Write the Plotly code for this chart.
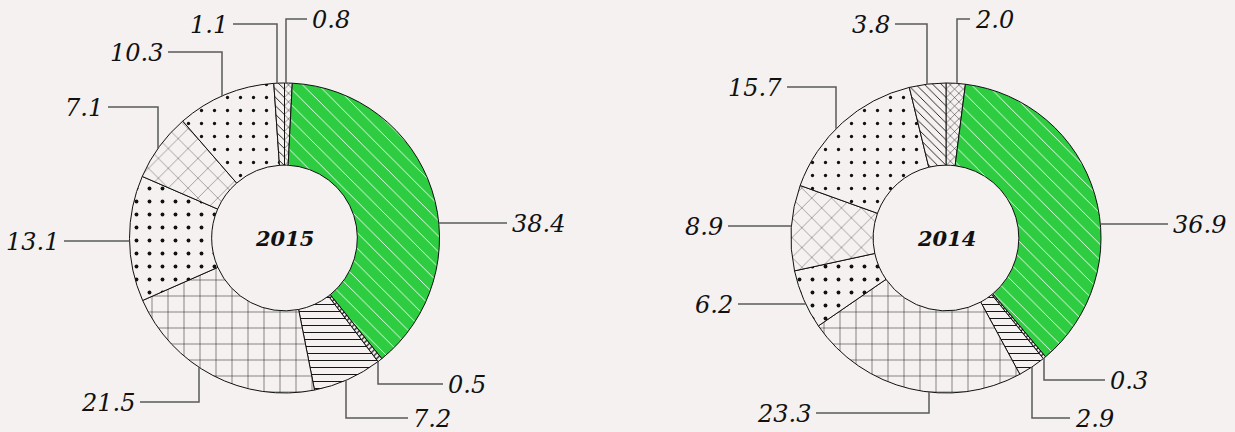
import math
import plotly.graph_objects as go

# ---------------- data ----------------
years = ["2015", "2014"]
categories = ["Segment A", "Segment B", "Segment C", "Segment D", "Segment E",
              "Segment F", "Segment G", "Segment H", "Segment I"]
values_2015 = [0.8, 38.4, 0.5, 7.2, 21.5, 13.1, 7.1, 10.3, 1.1]
values_2014 = [2.0, 36.9, 0.3, 2.9, 23.3, 6.2, 8.9, 15.7, 3.8]

# ---------------- style ----------------
W, H = 1235, 432
BG = "#f4f1f0"
GREEN = "#2ecc40"
FONT = "DejaVu Serif"
LINE = "#5a5a5a"

pat_shape = ["x", "\\", "/", "-", "+", ".", "x", ".", "\\"]
pat_size = [6, 11, 4, 7, 16, 13, 14, 13, 6]
pat_solid = [0.15, 0.08, 0.3, 0.14, 0.06, 0.07, 0.05, 0.05, 0.15]
pat_fg = ["#111", "#ffffff", "#111", "#111", "#111", "#111", "#111", "#111", "#111"]
slice_bg = [BG, GREEN, BG, BG, BG, BG, BG, BG, BG]

centers = {"2015": (284.5, 238.0), "2014": (946.0, 238.0)}
R = 155.0

# leader layout: (kind, pos, elbow, end, side)
leaders = {
    "2015": [
        ("v", 286, 19, 307, "top"),
        ("h", 223, None, 507, "right"),
        ("v", 378, 384, 443, "bottom"),
        ("v", 346, 418, 408, "bottom"),
        ("v", 199, 402, 140, "bottom"),
        ("h", 241, None, 64, "left"),
        ("v", 158, 107, 108, "top"),
        ("v", 222, 52, 168, "top"),
        ("v", 277, 24, 233, "top"),
    ],
    "2014": [
        ("v", 957, 19, 970, "top"),
        ("h", 224, None, 1168, "right"),
        ("v", 1044, 380, 1105, "bottom"),
        ("v", 1032, 418, 1070, "bottom"),
        ("v", 929, 413, 816, "bottom"),
        ("h", 304, None, 738, "left"),
        ("h", 226, None, 728, "left"),
        ("v", 836, 87, 787, "top"),
        ("v", 927, 24, 895, "top"),
    ],
}

data_by_year = {"2015": values_2015, "2014": values_2014}

fig = go.Figure()
shapes = []
annotations = []

for yr in years:
    cx, cy = centers[yr]
    vals = data_by_year[yr]
    fig.add_trace(go.Pie(
        labels=categories,
        values=vals,
        sort=False,
        direction="clockwise",
        rotation=0,
        hole=0.47,
        textinfo="none",
        hoverinfo="label+value",
        showlegend=False,
        domain=dict(x=[(cx - R) / W, (cx + R) / W],
                    y=[(H - (cy + R)) / H, (H - (cy - R)) / H]),
        marker=dict(
            colors=slice_bg,
            line=dict(color="#111111", width=1),
            pattern=dict(shape=pat_shape, size=pat_size, solidity=pat_solid,
                         fgcolor=pat_fg, fgopacity=1, bgcolor=slice_bg,
                         fillmode="overlay"),
        ),
    ))
    annotations.append(dict(
        x=cx, y=cy, xref="x", yref="y", text="<b><i>%s</i></b>" % yr,
        showarrow=False, font=dict(family=FONT, size=21, color="#111"),
    ))
    for v, (kind, pos, elbow, end, side) in zip(vals, leaders[yr]):
        if kind == "v":
            ax = pos
            dy = math.sqrt(max(R * R - (ax - cx) ** 2, 0))
            ay = cy - dy if side == "top" else cy + dy
            path = "M %f,%f L %f,%f L %f,%f" % (ax, ay, ax, elbow, end, elbow)
            ty = elbow
            right = end > ax
        else:
            ay = pos
            dx = math.sqrt(max(R * R - (ay - cy) ** 2, 0))
            ax = cx + dx if side == "right" else cx - dx
            path = "M %f,%f L %f,%f" % (ax, ay, end, ay)
            ty = ay
            right = end > ax
        shapes.append(dict(type="path", path=path, xref="x", yref="y",
                           line=dict(color=LINE, width=1.5), layer="above"))
        annotations.append(dict(
            x=end + (3 if right else -3), y=ty + 1, xref="x", yref="y",
            text="<i>%.1f</i>" % v, showarrow=False,
            xanchor="left" if right else "right", yanchor="middle",
            font=dict(family=FONT, size=24, color="#111"),
        ))

fig.add_trace(go.Scatter(x=[None], y=[None], showlegend=False, hoverinfo="skip"))
fig.update_layout(
    width=W, height=H,
    margin=dict(l=0, r=0, t=0, b=0),
    paper_bgcolor=BG, plot_bgcolor="rgba(0,0,0,0)",
    xaxis=dict(range=[0, W], visible=False, domain=[0, 1], fixedrange=True),
    yaxis=dict(range=[H, 0], visible=False, domain=[0, 1], fixedrange=True),
    shapes=shapes,
    annotations=annotations,
)

fig.write_html("out.html")
